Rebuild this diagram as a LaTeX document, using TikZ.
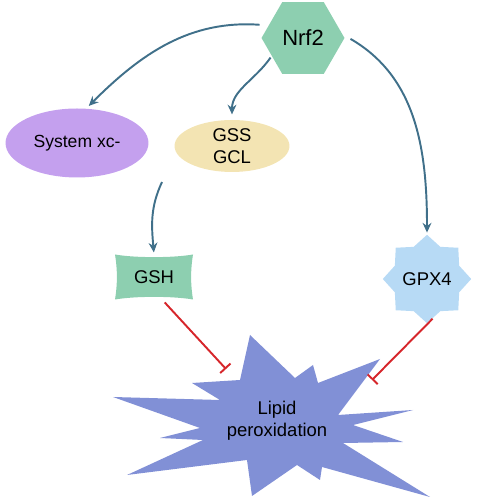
\documentclass[tikz,border=0pt]{standalone}
\usepackage{fontspec}
\setmainfont{Liberation Sans}
\usetikzlibrary{arrows.meta,shapes,positioning,calc}

\definecolor{nrfgreen}{HTML}{8DCFB0}
\definecolor{xcpurple}{HTML}{C4A0EE}
\definecolor{gssyellow}{HTML}{F3E4B3}
\definecolor{gpxblue}{HTML}{B7DAF5}
\definecolor{lipidblue}{HTML}{8190D6}
\definecolor{actblue}{HTML}{40708A}
\definecolor{inhred}{HTML}{D6262B}

\begin{document}
\begin{tikzpicture}[
            x=0.02cm, y=0.02cm,
            every node/.style={inner sep=0pt, align=center, font=\fontsize{10.5}{12.5}\selectfont},
            act/.style={draw=actblue, line width=1.1pt, -{Stealth[length=5.5pt,width=5pt]}},
            inhib/.style={draw=inhred, line width=1.1pt, -{Bar[width=8pt,line width=1.1pt]}}
        ]
\useasboundingbox (0,0) rectangle (480,499);

% lipid peroxidation burst
            \fill[lipidblue] (250,164) -- (295,121) -- (313,134) -- (318,116) -- (380,140)
                -- (338,84) -- (413,89) -- (353,74) -- (403,57) -- (343,56) -- (430,2)
                -- (322,32) -- (320,19) -- (297,34) -- (252,3) -- (247,39) -- (127,24)
                -- (203,59) -- (160,61) -- (200,71) -- (113,102) -- (220,99) -- (192,116)
                -- (240,119) -- cycle;

% GSH plaque
            \fill[nrfgreen] (115,244.5) .. controls (135,241) and (173,241) .. (193,244.5)
                .. controls (190.5,230) and (190.5,214) .. (193,199.5)
                .. controls (173,203) and (135,203) .. (115,199.5)
                .. controls (117.5,214) and (117.5,230) .. (115,244.5) -- cycle;

% nodes
            \node[regular polygon, regular polygon sides=6, minimum size=1.66cm, fill=nrfgreen,
                font=\fontsize{12.5}{14}\selectfont] (nrf2) at (303,461) {Nrf2};
            \node[ellipse, minimum width=2.86cm, minimum height=1.38cm, fill=xcpurple,
                font=\fontsize{10}{12}\selectfont] (sysxc) at (77,356) {System xc-};
            \node[ellipse, minimum width=2.3cm, minimum height=1.04cm, fill=gssyellow] (gss) at (232,353) {GSS\\GCL};
            \node[minimum width=1.56cm, minimum height=0.9cm] (gsh) at (154,222) {GSH};
            \node[star, star points=8, star point ratio=1.27, minimum size=1.58cm, fill=gpxblue] (gpx4) at (427,220) {GPX4};
            \node (lipid) at (277,78) {Lipid\\peroxidation};

% free ends
            \coordinate (gssfoot) at (162,317);
            \coordinate (lipidA) at (226,130);
            \coordinate (lipidB) at (372,119);

% arrows
            \draw[act, shorten <=5pt, shorten >=2pt] (nrf2.160) to[out=176, in=45] (sysxc.75);
            \draw[act, shorten <=1pt, shorten >=3pt] (nrf2.210) to[out=235, in=90] (gss.north);
            \draw[act, shorten <=5pt, shorten >=1pt] (nrf2.5) to[out=-30, in=90] (gpx4.north);
            \draw[act, shorten >=1pt] (gssfoot) to[out=245, in=95] (gsh.north);

% inhibition
            \draw[inhib, shorten <=2pt] (gsh.-70) -- (lipidA);
            \draw[inhib, shorten <=1pt] (gpx4.-80) -- (lipidB);

        \end{tikzpicture}
\end{document}
